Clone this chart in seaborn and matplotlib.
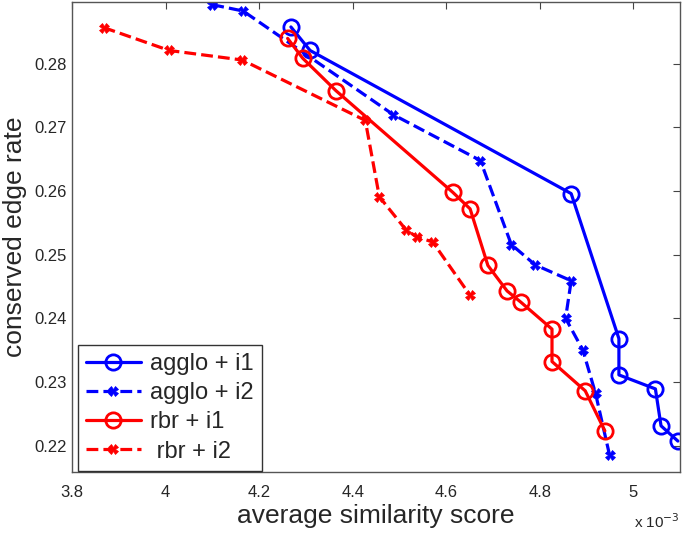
import matplotlib
matplotlib.use("Agg")
import matplotlib.pyplot as plt
from matplotlib.ticker import FuncFormatter
import seaborn as sns
import pandas as pd
import numpy as np

sns.set_style("white")
plt.rcParams['font.family'] = ['Liberation Sans', 'DejaVu Sans']

# values (x in units of 1e-3)
agglo_i1_x = [4.268, 4.309, 4.867, 4.969, 4.969, 5.047, 5.059, 5.095]
agglo_i1_y = [0.2858, 0.2821, 0.2596, 0.2368, 0.2311, 0.2289, 0.2231, 0.2207]

agglo_i2_x = [4.100, 4.166, 4.487, 4.673, 4.739, 4.790, 4.867, 4.855, 4.892, 4.919, 4.949]
agglo_i2_y = [0.2893, 0.2883, 0.2720, 0.2648, 0.2516, 0.2484, 0.2459, 0.2400, 0.2350, 0.2282, 0.2185]

rbr_i1_x = [4.261, 4.293, 4.364, 4.614, 4.651, 4.689, 4.730, 4.760, 4.826, 4.826, 4.897, 4.939]
rbr_i1_y = [0.2840, 0.2809, 0.2758, 0.2598, 0.2572, 0.2483, 0.2443, 0.2425, 0.2383, 0.2332, 0.2286, 0.2223]

rbr_i2_x = [3.868, 4.008, 4.164, 4.427, 4.457, 4.514, 4.537, 4.571, 4.651]
rbr_i2_y = [0.2857, 0.2821, 0.2806, 0.2711, 0.2591, 0.2539, 0.2528, 0.2520, 0.2436]

x_ticks = [3.8, 4.0, 4.2, 4.4, 4.6, 4.8, 5.0]
y_ticks = [0.22, 0.23, 0.24, 0.25, 0.26, 0.27, 0.28]

series = [
    ("agglo + i1", agglo_i1_x, agglo_i1_y, "blue", "-", "o"),
    ("agglo + i2", agglo_i2_x, agglo_i2_y, "blue", "--", "x"),
    ("rbr + i1", rbr_i1_x, rbr_i1_y, "red", "-", "o"),
    (" rbr + i2", rbr_i2_x, rbr_i2_y, "red", "--", "x"),
]

fig = plt.figure(figsize=(6.85, 5.33), dpi=100)
ax = fig.add_axes([0.105, 0.114, 0.888, 0.882])

for name, xs, ys, col, ls, mk in series:
    df = pd.DataFrame({"x": np.array(xs) * 1e-3, "y": ys})
    if mk == "o":
        sns.lineplot(data=df, x="x", y="y", sort=False, estimator=None, ax=ax,
                     color=col, linestyle=ls, marker="o", markersize=11,
                     markerfacecolor="none", markeredgecolor=col,
                     markeredgewidth=2, linewidth=2.3, label=name)
    else:
        sns.lineplot(data=df, x="x", y="y", sort=False, estimator=None, ax=ax,
                     color=col, linestyle=ls, marker="X", markersize=7,
                     markerfacecolor=col, markeredgecolor=col,
                     markeredgewidth=0.5, linewidth=2.3,
                     dashes=(2.2, 1.8), label=name)

ax.set_xlim(3.8e-3, 5.1e-3)
ax.set_ylim(0.2158, 0.2897)
ax.set_xticks(np.array(x_ticks) * 1e-3)
ax.set_yticks(y_ticks)
ax.xaxis.set_major_formatter(FuncFormatter(lambda v, p: "%g" % round(v * 1e3, 3)))
ax.yaxis.set_major_formatter(FuncFormatter(lambda v, p: "%.2f" % v))
ax.text(1.0, -0.085, r"x 10$^{-3}$", transform=ax.transAxes, ha="right",
        va="top", fontsize=11)

ax.tick_params(direction="in", length=5, width=0.8, color="#444444",
               top=True, right=True, labelsize=12)
ax.tick_params(axis="x", pad=9)
ax.tick_params(axis="y", pad=3.6)
for s in ax.spines.values():
    s.set_color("#555555")
    s.set_linewidth(1.0)

ax.set_xlabel("average similarity score", fontsize=19, labelpad=3)
ax.set_ylabel("conserved edge rate", fontsize=19, labelpad=5)

leg = ax.legend(loc="lower left", bbox_to_anchor=(0.01, 0.003), fontsize=17,
                frameon=True, fancybox=False, edgecolor="black",
                handlelength=2.3, borderpad=0.35, labelspacing=0.3,
                handletextpad=0.4, borderaxespad=0.0, numpoints=1)
leg.get_frame().set_linewidth(1.0)

fig.savefig("out.png", dpi=100)
